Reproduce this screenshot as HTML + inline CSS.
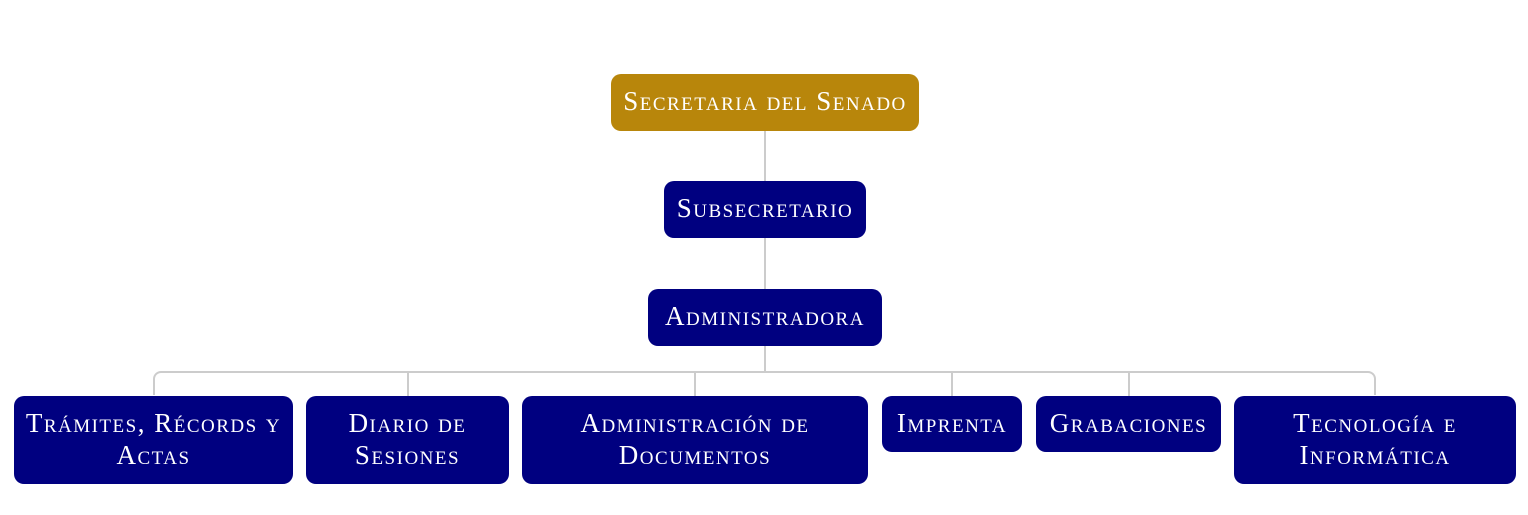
<!DOCTYPE html>
<html><head><meta charset="utf-8"><style>
body{margin:0;width:1528px;height:515px;background:#fff;position:relative;overflow:hidden;font-family:"Liberation Serif",serif;}
.b{position:absolute;background:#000080;color:#fff;border-radius:10px;text-align:center;font-variant:small-caps;font-size:27px;line-height:32px;box-sizing:border-box;padding-top:11px;letter-spacing:1.5px;white-space:nowrap}
.g{background:#b8860b}
.l{position:absolute;background:#ccc}
</style></head><body>
<div class="l" style="left:764px;top:130px;width:2px;height:242px"></div>
<div style="position:absolute;left:153px;top:371px;width:1223px;height:24px;border:2px solid #ccc;border-bottom:none;border-radius:8px 8px 0 0;box-sizing:border-box"></div>
<div class="l" style="left:407px;top:372px;width:2px;height:24px"></div>
<div class="l" style="left:694px;top:372px;width:2px;height:24px"></div>
<div class="l" style="left:951px;top:372px;width:2px;height:24px"></div>
<div class="l" style="left:1128px;top:372px;width:2px;height:24px"></div>
<div class="b g" style="left:611px;top:74px;width:308px;height:57px">Secretaria del Senado</div>
<div class="b" style="left:664px;top:181px;width:202px;height:57px">Subsecretario</div>
<div class="b" style="left:648px;top:289px;width:234px;height:57px">Administradora</div>
<div class="b" style="left:14px;top:396px;width:279px;height:88px">Trámites, Récords y<br>Actas</div>
<div class="b" style="left:306px;top:396px;width:203px;height:88px">Diario de<br>Sesiones</div>
<div class="b" style="left:522px;top:396px;width:346px;height:88px">Administración de<br>Documentos</div>
<div class="b" style="left:882px;top:396px;width:140px;height:56px">Imprenta</div>
<div class="b" style="left:1036px;top:396px;width:185px;height:56px">Grabaciones</div>
<div class="b" style="left:1234px;top:396px;width:282px;height:88px">Tecnología e<br>Informática</div>
</body></html>
